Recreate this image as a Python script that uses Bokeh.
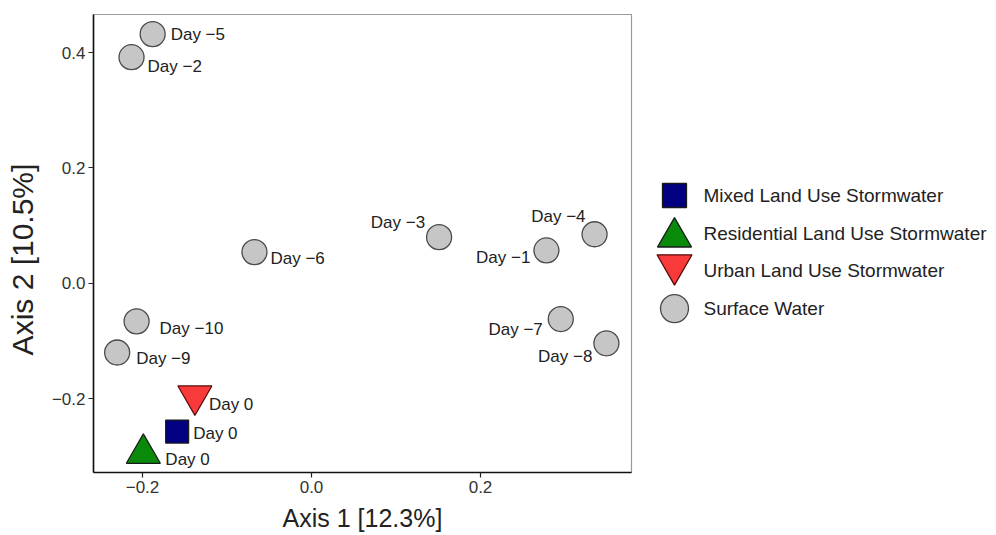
import math
from bokeh.plotting import figure
from bokeh.models import Range1d, FixedTicker, CustomJSTickFormatter, ColumnDataSource
from bokeh.layouts import row
from bokeh.embed import file_html
from bokeh.resources import INLINE
from bokeh.core.properties import value

# ---------------- data ----------------
sw_labels = ["Day −1", "Day −2", "Day −3", "Day −4", "Day −5",
             "Day −6", "Day −7", "Day −8", "Day −9", "Day −10"]
sw_axis1 = [0.278, -0.213, 0.151, 0.335, -0.188, -0.0675, 0.295, 0.349, -0.230, -0.207]
sw_axis2 = [0.057, 0.392, 0.080, 0.085, 0.432, 0.054, -0.062, -0.104, -0.120, -0.066]

storm_categories = ["Mixed Land Use Stormwater", "Residential Land Use Stormwater",
                    "Urban Land Use Stormwater"]
storm_labels = ["Day 0", "Day 0", "Day 0"]
storm_axis1 = [-0.159, -0.199, -0.138]
storm_axis2 = [-0.257, -0.295, -0.195]

legend_labels = ["Mixed Land Use Stormwater", "Residential Land Use Stormwater",
                 "Urban Land Use Stormwater", "Surface Water"]

x_ticks = [-0.2, 0.0, 0.2]
y_ticks = [-0.2, 0.0, 0.2, 0.4]
x_title = "Axis 1 [12.3%]"
y_title = "Axis 2 [10.5%]"

# ---------------- styles ----------------
FONT = value("Liberation Sans")
styles = {
    "Mixed Land Use Stormwater": dict(marker="square", fill="#000080", line="#1a1a1a", size=23, lsize=24, nudge=0),
    "Residential Land Use Stormwater": dict(marker="triangle", fill="#0A8A0A", line="#1a1a1a", size=34, lsize=34, nudge=4),
    "Urban Land Use Stormwater": dict(marker="inverted_triangle", fill="#F83A3A", line="#5a0a0a", size=34, lsize=35, nudge=-6),
    "Surface Water": dict(marker="circle", fill="#C6C6C6", line="#4a4a4a", size=25, lsize=28, nudge=0),
}
# label placement (screen px) for surface-water labels
sw_align = ["right", "left", "right", "right", "left", "left", "right", "right", "left", "left"]
sw_dx = [-16, 16, -14, -9, 18, 16, -18, -14, 19, 23]
sw_dy = [7, 9, -15, -18, 0, 6, 10, 13, 6, 7]
storm_dx = [16, 22, 14]
storm_dy = [2, 6, 9]

TW = 45                      # strip holding the y-axis title
BL, BR, BT, BB = 48, 5, 14, 63
FW, FH = 538, 458
H = BT + FH + BB

# ---------------- y-title strip ----------------
yt = figure(width=TW, height=H, x_range=Range1d(0, TW), y_range=Range1d(0, FH),
            output_backend="svg", toolbar_location=None,
            min_border_left=0, min_border_right=0, min_border_top=BT, min_border_bottom=BB)
yt.axis.visible = False
yt.grid.visible = False
yt.outline_line_color = None
yt.text(x=[22], y=[213], text=[y_title], angle=math.pi / 2, text_font=FONT,
        text_font_size="30px", text_color="#222222", text_align="center", text_baseline="middle")

# ---------------- main plot ----------------
p = figure(width=BL + FW + BR, height=H,
           x_range=Range1d(-0.258, 0.3787), y_range=Range1d(-0.328, 0.466),
           output_backend="svg", toolbar_location=None,
           min_border_left=BL, min_border_right=BR, min_border_top=BT, min_border_bottom=BB)
p.grid.visible = False
p.outline_line_color = "#9a9a9a"
p.outline_line_width = 1.2
p.background_fill_color = "white"
p.border_fill_color = "white"

fmt = CustomJSTickFormatter(code="return tick.toFixed(1).replace('-', '\u2212');")
for ax, ticks in ((p.xaxis[0], x_ticks), (p.yaxis[0], y_ticks)):
    ax.ticker = FixedTicker(ticks=ticks)
    ax.formatter = fmt
    ax.minor_tick_line_color = None
    ax.major_tick_in = 0
    ax.major_tick_out = 5
    ax.major_tick_line_color = "#222222"
    ax.major_tick_line_width = 1.2
    ax.axis_line_color = "#111111"
    ax.axis_line_width = 1.6
    ax.major_label_text_font = "Liberation Sans"
    ax.major_label_text_font_size = "17px"
    ax.major_label_text_color = "#333333"
    ax.major_label_standoff = 3
xa = p.xaxis[0]
xa.axis_label = x_title
xa.axis_label_text_font = "Liberation Sans"
xa.axis_label_text_font_size = "25px"
xa.axis_label_text_font_style = "normal"
xa.axis_label_text_color = "#222222"
xa.axis_label_standoff = 8

sw = styles["Surface Water"]
sw_src = ColumnDataSource(dict(x=sw_axis1, y=sw_axis2, label=sw_labels,
                               align=sw_align, dx=sw_dx, dy=sw_dy))
p.scatter("x", "y", source=sw_src, marker=sw["marker"], size=sw["size"],
          fill_color=sw["fill"], line_color=sw["line"], line_width=1.3)
p.text("x", "y", text="label", source=sw_src, text_font=FONT, text_font_size="17px",
       text_color="#222222", text_align="align", text_baseline="middle",
       x_offset="dx", y_offset="dy")

for i, cat in enumerate(storm_categories):
    st = styles[cat]
    src = ColumnDataSource(dict(x=[storm_axis1[i]], y=[storm_axis2[i]], label=[storm_labels[i]],
                                dx=[storm_dx[i]], dy=[storm_dy[i]]))
    p.scatter("x", "y", source=src, marker=st["marker"], size=st["size"],
              fill_color=st["fill"], line_color=st["line"], line_width=1.2)
    p.text("x", "y", text="label", source=src, text_font=FONT, text_font_size="17px",
           text_color="#222222", text_align="left", text_baseline="middle",
           x_offset="dx", y_offset="dy")

# ---------------- legend panel ----------------
ROW_PX = 37.7
TOP_PX = 181   # first legend row, px below frame top
LW = 356
lg = figure(width=LW, height=H, x_range=Range1d(-38, LW - 38),
            y_range=Range1d(start=(FH - TOP_PX) / ROW_PX, end=-TOP_PX / ROW_PX),
            output_backend="svg", toolbar_location=None,
            min_border_left=0, min_border_right=0, min_border_top=BT, min_border_bottom=BB)
lg.axis.visible = False
lg.grid.visible = False
lg.outline_line_color = None

for i, lab in enumerate(legend_labels):
    st = styles[lab]
    lg.scatter(x=[0], y=[i + st["nudge"] / ROW_PX], marker=st["marker"], size=st["lsize"],
               fill_color=st["fill"], line_color=st["line"], line_width=1.3)
lg.text(x=[0] * len(legend_labels), y=list(range(len(legend_labels))), text=legend_labels,
        text_font=FONT, text_font_size="19px", text_color="#222222",
        text_align="left", text_baseline="middle", x_offset=29)

layout = row(yt, p, lg, spacing=0)
open("out.html", "w").write(file_html(layout, INLINE))
